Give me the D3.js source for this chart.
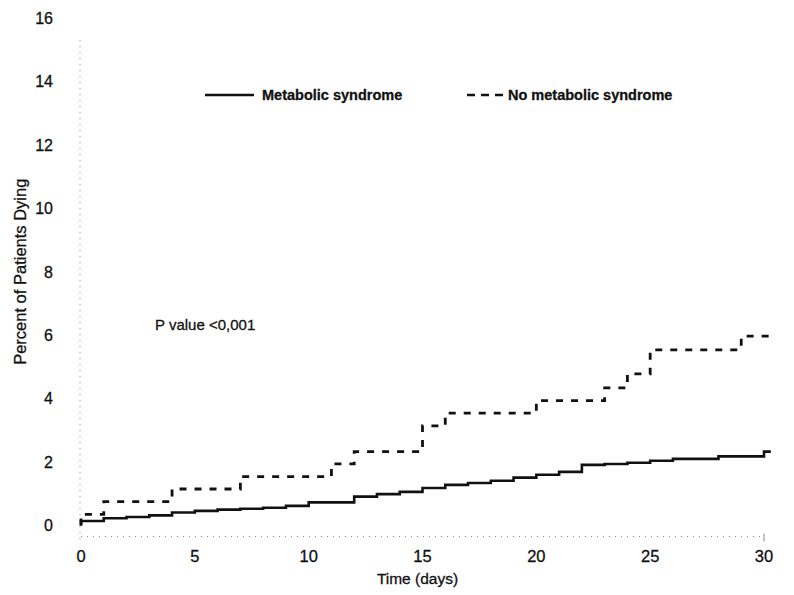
<!DOCTYPE html>
<html>
<head>
<meta charset="utf-8">
<script src="https://cdn.jsdelivr.net/npm/d3@7"></script>
<style>
  html, body { margin: 0; padding: 0; background: #fff; }
  svg text { font-family: Arial, 'Liberation Sans', sans-serif; fill: #111; stroke: #111; stroke-width: 0.3px; }
</style>
</head>
<body>
<div id="chart"></div>
<script>
// step curves (day, percent dying)
const metDays = [0, 0, 1, 2, 3, 4, 5, 6, 7, 8, 9, 10, 12, 13, 14, 15, 16, 17, 18, 19, 20, 21, 22, 23, 24, 25, 26, 28, 30, 30.3]
const metValues = [0, 0.14, 0.23, 0.27, 0.32, 0.41, 0.46, 0.5, 0.53, 0.56, 0.62, 0.73, 0.91, 0.99, 1.06, 1.18, 1.28, 1.34, 1.41, 1.51, 1.6, 1.69, 1.91, 1.94, 1.98, 2.04, 2.1, 2.18, 2.33, 2.33]

const noMetDays = [0, 0, 1, 4, 7, 11, 12, 15, 16, 20, 23, 24, 25, 29, 30.3]
const noMetValues = [0, 0.35, 0.75, 1.15, 1.54, 1.94, 2.33, 3.14, 3.54, 3.94, 4.34, 4.78, 5.54, 5.97, 5.97]

const xTicks = [0, 5, 10, 15, 20, 25, 30]
const yTicks = [0, 2, 4, 6, 8, 10, 12, 14, 16]
const legendLabels = ['Metabolic syndrome', 'No metabolic syndrome']

const width = 794
const height = 595
const baseline = -0.35 // dotted x axis sits a bit under zero

const svg = d3.select('#chart')
  .append('svg')
  .attr('width', width)
  .attr('height', height)

const x = d3.scaleLinear().domain([0, 30]).range([81, 764])
const y = d3.scaleLinear().domain([0, 16]).range([525.5, 18])

// dotted axes
svg.append('line')
  .attr('x1', x(0) - 1).attr('x2', x(0) - 1)
  .attr('y1', y(15.3)).attr('y2', y(baseline) + 6)
  .attr('stroke', '#888')
  .attr('stroke-width', 1)
  .attr('stroke-dasharray', '1,5')

svg.append('line')
  .attr('x1', x(0)).attr('x2', x(30))
  .attr('y1', y(baseline)).attr('y2', y(baseline))
  .attr('stroke', '#888')
  .attr('stroke-width', 1)
  .attr('stroke-dasharray', '1,5')

svg.append('line')
  .attr('x1', x(30)).attr('x2', x(30))
  .attr('y1', y(baseline) - 3).attr('y2', y(baseline) + 5)
  .attr('stroke', '#888')
  .attr('stroke-width', 1)

// tick labels
svg.selectAll('text.ytick')
  .data(yTicks)
  .join('text')
  .attr('class', 'ytick')
  .attr('x', 53)
  .attr('y', d => y(d))
  .attr('dy', '0.36em')
  .attr('text-anchor', 'end')
  .attr('font-size', '16px')
  .text(d => d)

svg.selectAll('text.xtick')
  .data(xTicks)
  .join('text')
  .attr('class', 'xtick')
  .attr('x', d => x(d))
  .attr('y', 562)
  .attr('text-anchor', 'middle')
  .attr('font-size', '16.5px')
  .text(d => d)

// axis titles
svg.append('text')
  .attr('x', (x(0) + x(30)) / 2 - 5)
  .attr('y', 584)
  .attr('text-anchor', 'middle')
  .attr('font-size', '15.5px')
  .text('Time (days)')

svg.append('text')
  .attr('transform', `translate(26, ${y(8.0)}) rotate(-90)`)
  .attr('text-anchor', 'middle')
  .attr('font-size', '16.5px')
  .text('Percent of Patients Dying')

svg.append('text')
  .attr('x', 155)
  .attr('y', 330)
  .attr('font-size', '15px')
  .text('P value <0,001')

// curves
const stepLine = d3.line()
  .x(d => x(d[0]))
  .y(d => y(d[1]))
  .curve(d3.curveStepAfter)

svg.append('path')
  .datum(d3.zip(metDays, metValues))
  .attr('d', stepLine)
  .attr('fill', 'none')
  .attr('stroke', '#111')
  .attr('stroke-width', 2.6)

svg.append('path')
  .datum(d3.zip(noMetDays, noMetValues))
  .attr('d', stepLine)
  .attr('fill', 'none')
  .attr('stroke', '#111')
  .attr('stroke-width', 2.8)
  .attr('stroke-dasharray', '7,8')

// legend
const legendY = 95
svg.append('line')
  .attr('x1', 205).attr('x2', 254)
  .attr('y1', legendY).attr('y2', legendY)
  .attr('stroke', '#111')
  .attr('stroke-width', 2.4)
svg.append('text')
  .attr('x', 262)
  .attr('y', legendY)
  .attr('dy', '0.36em')
  .attr('font-size', '14.5px')
  .attr('font-weight', 'bold')
  .attr('stroke-width', 0)
  .text(legendLabels[0])

svg.append('line')
  .attr('x1', 467).attr('x2', 503)
  .attr('y1', legendY).attr('y2', legendY)
  .attr('stroke', '#111')
  .attr('stroke-width', 2.4)
  .attr('stroke-dasharray', '8,6')
svg.append('text')
  .attr('x', 508)
  .attr('y', legendY)
  .attr('dy', '0.36em')
  .attr('font-size', '14.5px')
  .attr('font-weight', 'bold')
  .attr('stroke-width', 0)
  .text(legendLabels[1])
</script>
</body>
</html>
